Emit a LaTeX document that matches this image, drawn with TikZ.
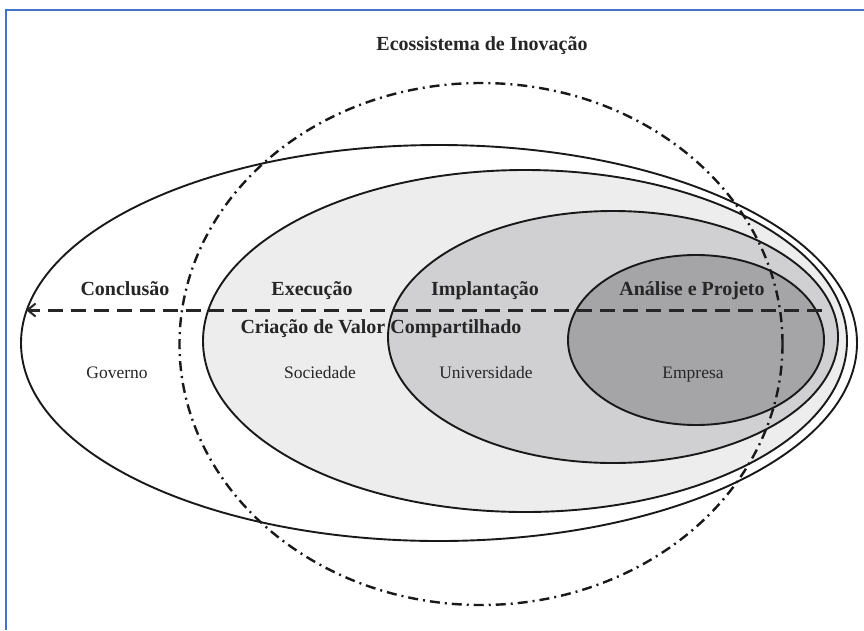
\documentclass[tikz,border=0pt]{standalone}
\usepackage{fontspec}
\setmainfont{Liberation Serif}
\usetikzlibrary{shapes.geometric,arrows.meta}
\definecolor{frameblue}{RGB}{68,114,196}
\definecolor{socfill}{RGB}{237,237,238}
\definecolor{unifill}{RGB}{208,208,210}
\definecolor{empfill}{RGB}{165,165,168}
\definecolor{txt}{RGB}{38,38,38}
\tikzset{
  ring/.style={ellipse, draw=black!90, line width=1.9pt, inner sep=0pt},
  boldlabel/.style={text=txt, font=\fontsize{20}{24}\selectfont\bfseries, inner sep=0pt, text height=1.5ex, text depth=.25ex},
  plainlabel/.style={text=txt, font=\fontsize{17.5}{21}\selectfont, inner sep=0pt, text height=1.5ex, text depth=.25ex},
  dashdot/.style={draw=black!90, line width=2.4pt, dash pattern=on 10pt off 5pt on 2pt off 5pt},
  flowline/.style={draw=black!85, line width=3pt, dash pattern=on 15pt off 8pt}
}
\begin{document}
\begin{tikzpicture}[x=1pt,y=-1pt]
\useasboundingbox (0,0) rectangle (864,630);
\fill[white] (0,0) rectangle (864,630);
% frame
\draw[frameblue, line width=2pt] (6,630) -- (6,10) -- (864,10);
% nested ellipses
\node[ring, fill=white, minimum width=836pt, minimum height=396pt] (gov) at (439,343) {};
\node[ring, fill=socfill, minimum width=644pt, minimum height=342pt] (soc) at (525,341) {};
\node[ring, fill=unifill, minimum width=450pt, minimum height=252pt] (uni) at (613,337) {};
\node[ring, fill=empfill, minimum width=256pt, minimum height=170pt] (emp) at (696,340) {};
% ecosystem (dash-dot)
\node[ellipse, dashdot, inner sep=0pt, minimum width=603pt, minimum height=522pt] (eco) at (481,344) {};
% flow arrow
\coordinate (flowstart) at (822,310);
\coordinate (flowend) at (26,310);
\draw[flowline, -{Straight Barb[length=8pt,width=13pt,line width=2pt]}] (flowstart) -- (flowend);
% labels
\node[boldlabel] (title) at (482,48) {Ecossistema de Inovação};
\node[boldlabel] (conc) at (125,293) {Conclusão};
\node[boldlabel] (exec) at (312,293) {Execução};
\node[boldlabel] (impl) at (485,293) {Implantação};
\node[boldlabel] (anal) at (692,293) {Análise e Projeto};
\node[boldlabel] (cvc) at (381,331) {Criação de Valor Compartilhado};
\node[plainlabel] (govl) at (117,376) {Governo};
\node[plainlabel] (socl) at (320,376) {Sociedade};
\node[plainlabel] (unil) at (486,376) {Universidade};
\node[plainlabel] (empl) at (693,376) {Empresa};
\end{tikzpicture}
\end{document}
